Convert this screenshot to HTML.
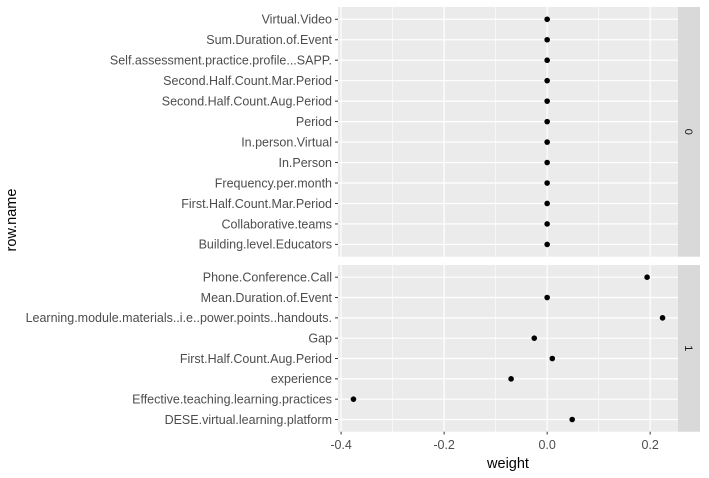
<!DOCTYPE html>
<html><head><meta charset="utf-8"><style>
body{margin:0;background:#fff;}
svg{display:block;font-family:"Liberation Sans",Arial,sans-serif;}
</style></head><body>
<svg id="c" width="709" height="478"></svg>
<script>
const topCats=["Virtual.Video","Sum.Duration.of.Event","Self.assessment.practice.profile...SAPP.","Second.Half.Count.Mar.Period","Second.Half.Count.Aug.Period","Period","In.person.Virtual","In.Person","Frequency.per.month","First.Half.Count.Mar.Period","Collaborative.teams","Building.level.Educators"];
const topVals=[0,0,0,0,0,0,0,0,0,0,0,0];
const botCats=["Phone.Conference.Call","Mean.Duration.of.Event","Learning.module.materials..i.e..power.points..handouts.","Gap","First.Half.Count.Aug.Period","experience","Effective.teaching.learning.practices","DESE.virtual.learning.platform"];
const botVals=[0.194,0,0.224,-0.025,0.01,-0.07,-0.376,0.0486];
const xTicks=[-0.4,-0.2,0.0,0.2];
const xTickLabels=["-0.4","-0.2","0.0","0.2"];
const xMinor=[-0.3,-0.1,0.1];
const facetLabels=["0","1"];

const NS="http://www.w3.org/2000/svg";
const svg=document.getElementById('c');
function el(t,a,p){const e=document.createElementNS(NS,t);for(const k in a)e.setAttribute(k,a[k]);(p||svg).appendChild(e);return e;}
const L=338,R=678,x0=-0.406,x1=0.254;
const X=v=>L+(v-x0)/(x1-x0)*(R-L);
const panels=[{cats:topCats,vals:topVals,t:7,b:256.7,lab:facetLabels[0]},{cats:botCats,vals:botVals,t:265,b:431.7,lab:facetLabels[1]}];
panels.forEach((p,pi)=>{
  const n=p.cats.length,step=(p.b-p.t)/(n-1+1.2);
  const Y=i=>p.t+(0.6+i)*step;
  const bg=el('rect',{x:L,y:p.t,width:R-L,height:p.b-p.t,fill:'#ebebeb'});
  
  
  xMinor.forEach(v=>el('line',{x1:X(v),x2:X(v),y1:p.t,y2:p.b,stroke:'#fff','stroke-width':0.6}));
  xTicks.forEach(v=>el('line',{x1:X(v),x2:X(v),y1:p.t,y2:p.b,stroke:'#fff','stroke-width':1.2}));
  p.cats.forEach((c,i)=>{
    el('line',{x1:L,x2:R,y1:Y(i),y2:Y(i),stroke:'#fff','stroke-width':1.2});
    el('line',{x1:L-3,x2:L,y1:Y(i),y2:Y(i),stroke:'#333','stroke-width':1});
    const t=el('text',{x:L-6,y:Y(i)+4.3,'text-anchor':'end','font-size':12.5,fill:'#4d4d4d'});
    t.textContent=c;
    
    
  });
  p.vals.forEach((v,i)=>{
    const d=el('circle',{cx:X(v),cy:Y(i),r:2.8,fill:'#000'});
    
    
  });
  const s=el('rect',{x:R,y:p.t,width:22,height:p.b-p.t,fill:'#d9d9d9'});
  
  
  const cy=(p.t+p.b)/2;
  const st=el('text',{x:R+11,y:cy,'text-anchor':'middle','font-size':11,fill:'#1a1a1a',transform:`rotate(90 ${R+11} ${cy}) translate(0 4)`});
  st.textContent=p.lab;
  
  
});
xTicks.forEach((v,i)=>{
  el('line',{x1:X(v),x2:X(v),y1:431.7,y2:434.5,stroke:'#333','stroke-width':1});
  const t=el('text',{x:X(v),y:449,'text-anchor':'middle','font-size':12.5,fill:'#4d4d4d'});
  t.textContent=xTickLabels[i];
  
  
});
const xt=el('text',{x:508,y:468,'text-anchor':'middle','font-size':14.5,fill:'#000'});
xt.textContent='weight';


const yt=el('text',{x:16,y:220,'text-anchor':'middle','font-size':14.5,fill:'#000',transform:'rotate(-90 16 220)'});
yt.textContent='row.name';


</script>
</body></html>
